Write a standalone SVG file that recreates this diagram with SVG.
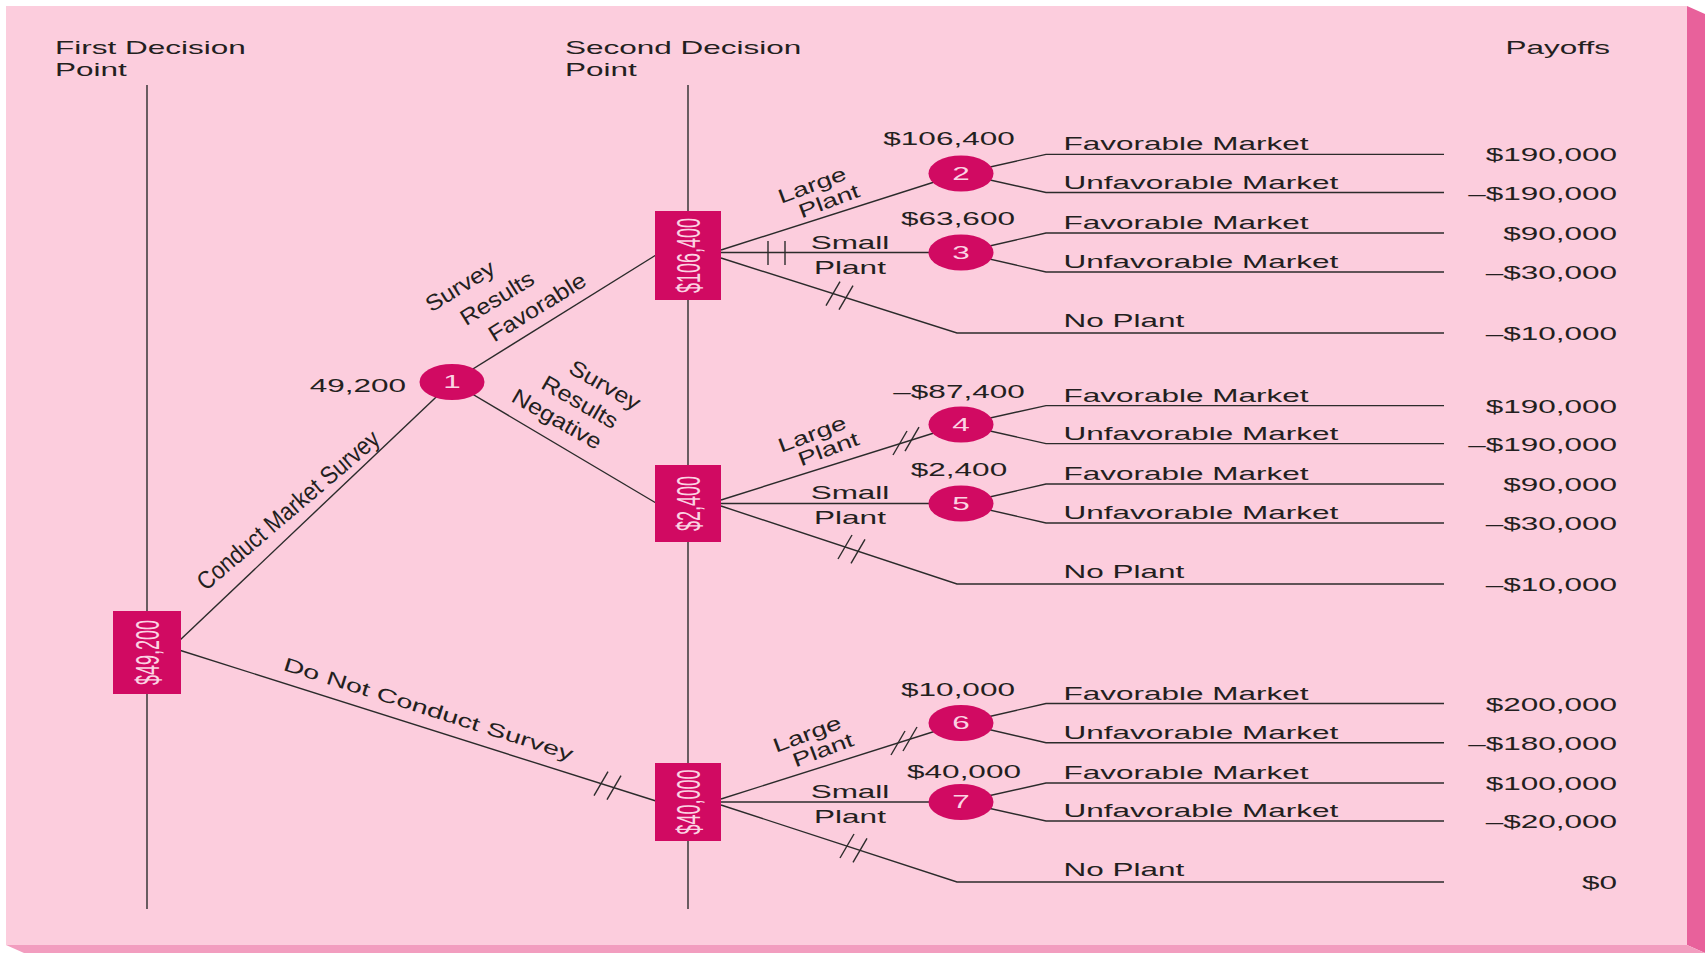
<svg xmlns="http://www.w3.org/2000/svg" width="1705" height="953" viewBox="0 0 1705 953">
<style>
.t{font-family:"Liberation Sans",Arial,sans-serif;font-size:17.5px;fill:#231f20}
.m{text-anchor:middle}
.e{text-anchor:end}
.bx{fill:#d10a62}
.bt{font-family:"Liberation Sans",Arial,sans-serif;font-size:18px;fill:#fbd3e3;text-anchor:middle}
.ct{font-family:"Liberation Sans",Arial,sans-serif;font-size:17.5px;fill:#fbd3e3;text-anchor:middle}
.ln{stroke:#2b2b2b;stroke-width:1.4;fill:none}
</style>
<rect x="0" y="0" width="1705" height="953" fill="#ffffff"/>
<rect x="6" y="6" width="1681" height="939" fill="#fccddd"/>
<polygon points="1687,6 1705,14 1705,953 1687,945" fill="#e8619b"/>
<polygon points="6,945 1687,945 1705,953 24,953" fill="#f29dbf"/>

<g id="headings">
<text class="t" transform="translate(55 54) scale(1.8 1)">First Decision</text>
<text class="t" transform="translate(55 76) scale(1.8 1)">Point</text>
<text class="t" transform="translate(565 54) scale(1.8 1)">Second Decision</text>
<text class="t" transform="translate(565 76) scale(1.8 1)">Point</text>
<text class="t e" transform="translate(1610 54) scale(1.8 1)">Payoffs</text>
</g>

<g id="connectors" class="ln">
<line x1="147" y1="85" x2="147" y2="909"/>
<line x1="688" y1="85" x2="688" y2="909"/>
<line x1="179" y1="641" x2="452" y2="382"/>
<line x1="179" y1="650" x2="656" y2="801"/>
<line x1="452" y1="382" x2="656" y2="255"/>
<line x1="452" y1="382" x2="656" y2="503"/>
<line x1="721" y1="250" x2="961" y2="173.5"/>
<line x1="721" y1="252.5" x2="961" y2="252.5"/>
<polyline points="721,258 957,333 1444,333"/>
<line x1="721" y1="500" x2="961" y2="424.5"/>
<line x1="721" y1="503.5" x2="961" y2="503.5"/>
<polyline points="721,506 957,584 1444,584"/>
<line x1="721" y1="799" x2="961" y2="723"/>
<line x1="721" y1="802" x2="961" y2="802"/>
<polyline points="721,805 957,882 1444,882"/>
<polyline points="961,173.5 1046,154.4 1444,154.4"/>
<polyline points="961,173.5 1046,192.5 1444,192.5"/>
<polyline points="961,252.5 1046,233 1444,233"/>
<polyline points="961,252.5 1046,272 1444,272"/>
<polyline points="961,424.5 1046,405.6 1444,405.6"/>
<polyline points="961,424.5 1046,443.6 1444,443.6"/>
<polyline points="961,503.5 1046,484 1444,484"/>
<polyline points="961,503.5 1046,523 1444,523"/>
<polyline points="961,723 1046,703.5 1444,703.5"/>
<polyline points="961,723 1046,742.7 1444,742.7"/>
<polyline points="961,802 1046,783 1444,783"/>
<polyline points="961,802 1046,821 1444,821"/>
<g id="prune-marks">
<line x1="768" y1="241" x2="768" y2="265"/>
<line x1="785" y1="241" x2="785" y2="265"/>
<line x1="826" y1="305.6" x2="840" y2="281.6"/>
<line x1="839" y1="309.7" x2="853" y2="285.7"/>
<line x1="893" y1="455" x2="907" y2="431"/>
<line x1="905" y1="451.2" x2="919" y2="427.2"/>
<line x1="838" y1="559" x2="852" y2="535"/>
<line x1="851" y1="563.3" x2="865" y2="539.3"/>
<line x1="594" y1="795.6" x2="608" y2="771.6"/>
<line x1="607" y1="799.7" x2="621" y2="775.7"/>
<line x1="891" y1="755" x2="905" y2="731"/>
<line x1="903" y1="751" x2="917" y2="727"/>
<line x1="840" y1="858" x2="854" y2="834"/>
<line x1="853" y1="862.3" x2="867" y2="838.3"/>
</g>
</g>

<g id="edge-labels">
<text class="t m" transform="translate(288 510) rotate(-40.5) scale(1.262 1.43)" y="6">Conduct Market Survey</text>
<text class="t m" transform="translate(428.5 709) rotate(17.5) scale(1.647 1.09)" y="6">Do Not Conduct Survey</text>
<text class="t m" transform="translate(460 286) rotate(-31.7) scale(1.416 1.27)" y="6">Survey</text>
<text class="t m" transform="translate(497 298) rotate(-31.7) scale(1.416 1.27)" y="6">Results</text>
<text class="t m" transform="translate(537 307) rotate(-31.7) scale(1.416 1.27)" y="6">Favorable</text>
<text class="t m" transform="translate(605 385) rotate(29.9) scale(1.443 1.247)" y="6">Survey</text>
<text class="t m" transform="translate(580 402) rotate(29.9) scale(1.443 1.247)" y="6">Results</text>
<text class="t m" transform="translate(557 419) rotate(29.9) scale(1.443 1.247)" y="6">Negative</text>
<text class="t m" transform="translate(812 185) rotate(-20.5) scale(1.594 1.13)" y="6">Large</text>
<text class="t m" transform="translate(829 201) rotate(-20.5) scale(1.594 1.13)" y="6">Plant</text>
<text class="t m" transform="translate(850 249) scale(1.8 1)">Small</text>
<text class="t m" transform="translate(850 274) scale(1.8 1)">Plant</text>
<text class="t m" transform="translate(812 434) rotate(-20.5) scale(1.594 1.13)" y="6">Large</text>
<text class="t m" transform="translate(828.5 449) rotate(-20.5) scale(1.594 1.13)" y="6">Plant</text>
<text class="t m" transform="translate(850 499) scale(1.8 1)">Small</text>
<text class="t m" transform="translate(850 524) scale(1.8 1)">Plant</text>
<text class="t m" transform="translate(807 734) rotate(-20.5) scale(1.594 1.13)" y="6">Large</text>
<text class="t m" transform="translate(823 750) rotate(-20.5) scale(1.594 1.13)" y="6">Plant</text>
<text class="t m" transform="translate(850 798) scale(1.8 1)">Small</text>
<text class="t m" transform="translate(850 823) scale(1.8 1)">Plant</text>
<text class="t" transform="translate(1063.5 150.4) scale(1.8 1)">Favorable Market</text>
<text class="t" transform="translate(1063.5 188.5) scale(1.8 1)">Unfavorable Market</text>
<text class="t" transform="translate(1063.5 229) scale(1.8 1)">Favorable Market</text>
<text class="t" transform="translate(1063.5 268) scale(1.8 1)">Unfavorable Market</text>
<text class="t" transform="translate(1063.5 327) scale(1.8 1)">No Plant</text>
<text class="t" transform="translate(1063.5 401.6) scale(1.8 1)">Favorable Market</text>
<text class="t" transform="translate(1063.5 439.6) scale(1.8 1)">Unfavorable Market</text>
<text class="t" transform="translate(1063.5 480) scale(1.8 1)">Favorable Market</text>
<text class="t" transform="translate(1063.5 519) scale(1.8 1)">Unfavorable Market</text>
<text class="t" transform="translate(1063.5 578) scale(1.8 1)">No Plant</text>
<text class="t" transform="translate(1063.5 699.5) scale(1.8 1)">Favorable Market</text>
<text class="t" transform="translate(1063.5 738.7) scale(1.8 1)">Unfavorable Market</text>
<text class="t" transform="translate(1063.5 779) scale(1.8 1)">Favorable Market</text>
<text class="t" transform="translate(1063.5 817) scale(1.8 1)">Unfavorable Market</text>
<text class="t" transform="translate(1063.5 876) scale(1.8 1)">No Plant</text>
</g>

<g id="payoffs">
<text class="t e" transform="translate(1617 161.4) scale(1.8 1)">$190,000</text>
<text class="t e" transform="translate(1617 199.5) scale(1.8 1)">–$190,000</text>
<text class="t e" transform="translate(1617 240) scale(1.8 1)">$90,000</text>
<text class="t e" transform="translate(1617 279) scale(1.8 1)">–$30,000</text>
<text class="t e" transform="translate(1617 340) scale(1.8 1)">–$10,000</text>
<text class="t e" transform="translate(1617 412.6) scale(1.8 1)">$190,000</text>
<text class="t e" transform="translate(1617 450.6) scale(1.8 1)">–$190,000</text>
<text class="t e" transform="translate(1617 491) scale(1.8 1)">$90,000</text>
<text class="t e" transform="translate(1617 530) scale(1.8 1)">–$30,000</text>
<text class="t e" transform="translate(1617 591) scale(1.8 1)">–$10,000</text>
<text class="t e" transform="translate(1617 710.5) scale(1.8 1)">$200,000</text>
<text class="t e" transform="translate(1617 749.7) scale(1.8 1)">–$180,000</text>
<text class="t e" transform="translate(1617 790) scale(1.8 1)">$100,000</text>
<text class="t e" transform="translate(1617 828) scale(1.8 1)">–$20,000</text>
<text class="t e" transform="translate(1617 889) scale(1.8 1)">$0</text>
</g>

<g id="node-d0">
<rect class="bx" x="113" y="611" width="68" height="83"/>
<text class="bt" transform="translate(147 652.5) scale(1.8 1) rotate(-90)" y="6.5">$49,200</text>
</g>
<g id="node-d1">
<rect class="bx" x="655" y="211" width="66" height="89"/>
<text class="bt" transform="translate(688 255.5) scale(1.8 1) rotate(-90)" y="6.5">$106,400</text>
</g>
<g id="node-d2">
<rect class="bx" x="655" y="465" width="66" height="77"/>
<text class="bt" transform="translate(688 503.5) scale(1.8 1) rotate(-90)" y="6.5">$2,400</text>
</g>
<g id="node-d3">
<rect class="bx" x="655" y="763" width="66" height="78"/>
<text class="bt" transform="translate(688 802) scale(1.8 1) rotate(-90)" y="6.5">$40,000</text>
</g>

<g id="node-c1">
<ellipse class="bx" cx="452" cy="382" rx="32.5" ry="18"/>
<text class="ct" transform="translate(452 388) scale(1.8 1)">1</text>
<text class="t e" transform="translate(406 391.5) scale(1.8 1)">49,200</text>
</g>
<g id="node-c2">
<ellipse class="bx" cx="961" cy="173.5" rx="32.5" ry="18"/>
<text class="ct" transform="translate(961 179.5) scale(1.8 1)">2</text>
<text class="t m" transform="translate(949 144.6) scale(1.8 1)">$106,400</text>
</g>
<g id="node-c3">
<ellipse class="bx" cx="961" cy="252.5" rx="32.5" ry="18"/>
<text class="ct" transform="translate(961 258.5) scale(1.8 1)">3</text>
<text class="t m" transform="translate(958 225) scale(1.8 1)">$63,600</text>
</g>
<g id="node-c4">
<ellipse class="bx" cx="961" cy="424.5" rx="32.5" ry="18"/>
<text class="ct" transform="translate(961 430.5) scale(1.8 1)">4</text>
<text class="t m" transform="translate(959 398) scale(1.8 1)">–$87,400</text>
</g>
<g id="node-c5">
<ellipse class="bx" cx="961" cy="503.5" rx="32.5" ry="18"/>
<text class="ct" transform="translate(961 509.5) scale(1.8 1)">5</text>
<text class="t m" transform="translate(959 476) scale(1.8 1)">$2,400</text>
</g>
<g id="node-c6">
<ellipse class="bx" cx="961" cy="723" rx="32.5" ry="18"/>
<text class="ct" transform="translate(961 729) scale(1.8 1)">6</text>
<text class="t m" transform="translate(958 696) scale(1.8 1)">$10,000</text>
</g>
<g id="node-c7">
<ellipse class="bx" cx="961" cy="802" rx="32.5" ry="18"/>
<text class="ct" transform="translate(961 808) scale(1.8 1)">7</text>
<text class="t m" transform="translate(964 777.5) scale(1.8 1)">$40,000</text>
</g>
</svg>
